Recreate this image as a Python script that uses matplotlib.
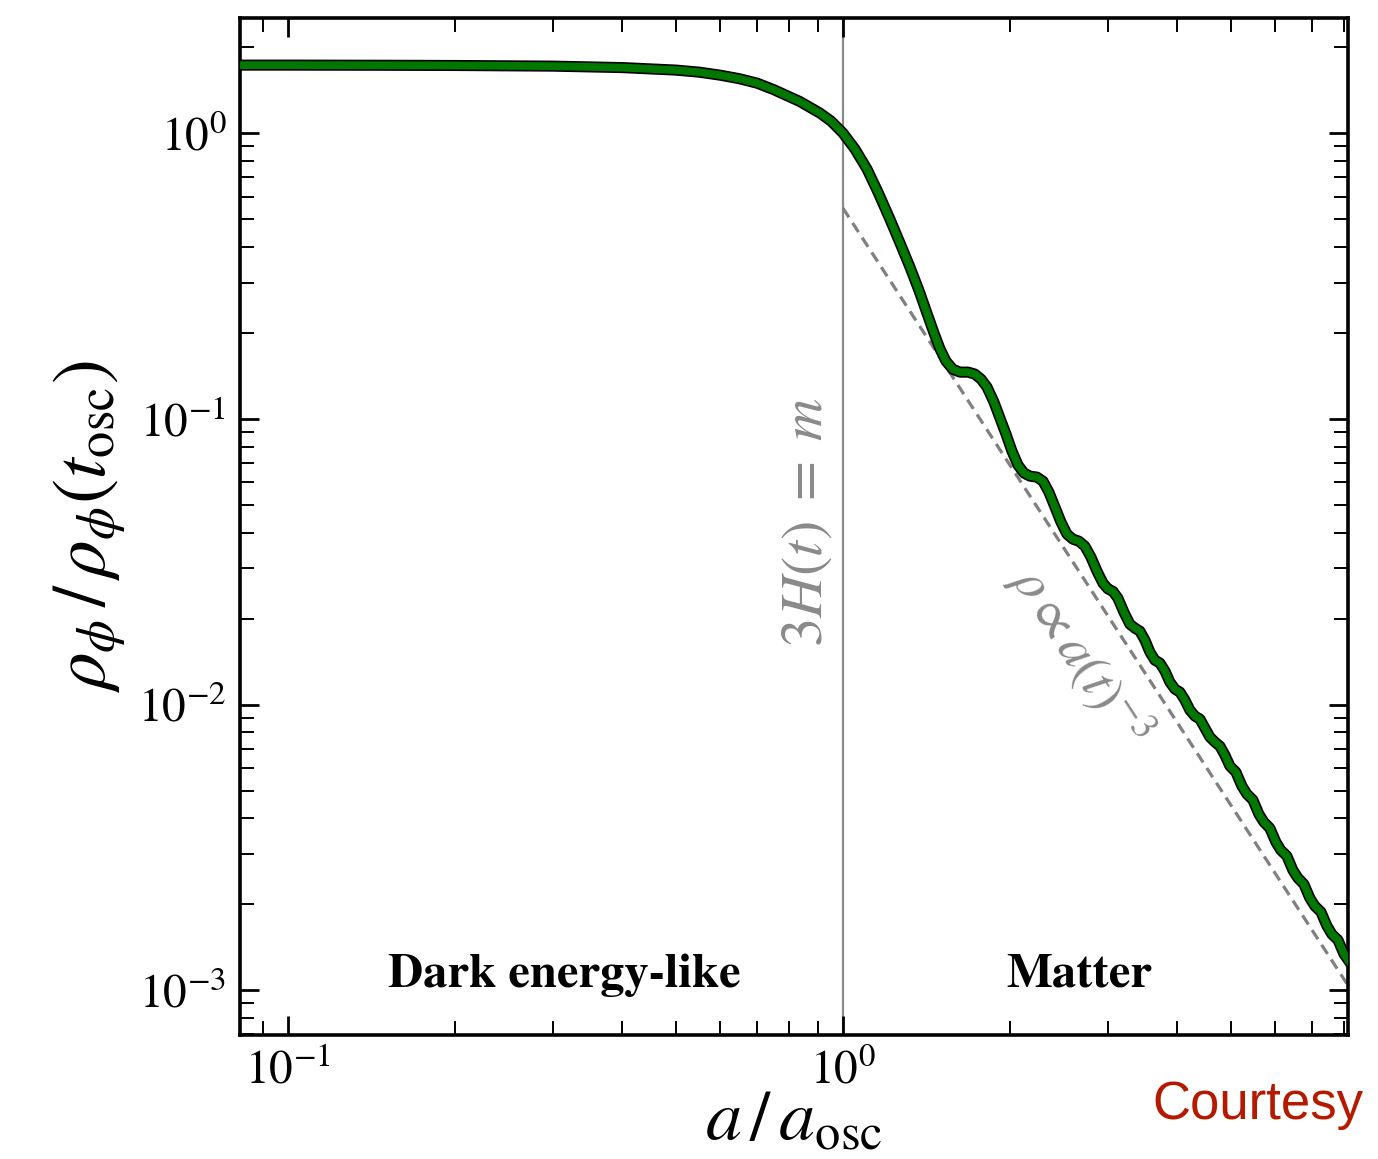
import numpy as np
import matplotlib
matplotlib.use("Agg")
import matplotlib.pyplot as plt
import matplotlib.patheffects as pe
from matplotlib.ticker import LogLocator, NullFormatter

plt.rcParams['mathtext.fontset'] = 'stix'
plt.rcParams['font.family'] = ['STIXGeneral', 'DejaVu Serif']

# energy density of the field
a_ratio = [0.08, 0.1, 0.15, 0.2, 0.3, 0.4, 0.5, 0.55, 0.6, 0.65,
           0.7, 0.75, 0.8368, 0.909, 0.9514, 1.0, 1.051, 1.105, 1.156, 1.215,
           1.267, 1.320, 1.370, 1.417, 1.459, 1.496, 1.533, 1.578, 1.625, 1.680,
           1.729, 1.773, 1.818, 1.871, 1.918, 1.967, 2.016, 2.067, 2.119, 2.173,
           2.236, 2.293, 2.350, 2.410, 2.471, 2.533, 2.597, 2.662, 2.729, 2.798,
           2.869, 2.941, 3.002, 3.065, 3.129, 3.208, 3.289, 3.358, 3.428, 3.501,
           3.574, 3.649, 3.726, 3.804, 3.883, 3.965, 4.048, 4.133, 4.219, 4.307,
           4.398, 4.490, 4.585, 4.681, 4.779, 4.879, 4.981, 5.107, 5.236, 5.346,
           5.481, 5.619, 5.734, 5.880, 6.028, 6.154, 6.310, 6.469, 6.605, 6.771,
           6.941, 7.088, 7.267, 7.450, 7.606, 7.798, 7.994, 8.196]
rho_ratio = [1.730, 1.730, 1.728, 1.725, 1.716, 1.696, 1.662, 1.635, 1.596, 1.551,
             1.496, 1.420, 1.289, 1.175, 1.102, 1.0, 0.879, 0.748, 0.622, 0.500,
             0.412, 0.340, 0.282, 0.234, 0.1995, 0.1754, 0.1592, 0.149, 0.1457, 0.1457,
             0.1434, 0.1377, 0.1291, 0.1144, 0.1006, 0.0884, 0.0771, 0.0689, 0.0646, 0.0630,
             0.0625, 0.0605, 0.0554, 0.0491, 0.0435, 0.0395, 0.0379, 0.0373, 0.0358, 0.0328,
             0.0293, 0.0266, 0.0254, 0.0249, 0.02357, 0.02105, 0.01911, 0.01851, 0.01807, 0.0168,
             0.01526, 0.01429, 0.01396, 0.01309, 0.01198, 0.01132, 0.01105, 0.01036, 0.00956, 0.00911,
             0.00889, 0.00827, 0.00769, 0.00739, 0.00715, 0.00665, 0.00609, 0.00580, 0.00518, 0.00486,
             0.00463, 0.00413, 0.00388, 0.00369, 0.00330, 0.00309, 0.00295, 0.00263, 0.00247, 0.00235,
             0.00210, 0.00197, 0.00188, 0.00168, 0.00157, 0.00150, 0.00134, 0.00125]

# a^-3 guide line
guide_a = [1.0, 8.13]
guide_rho = [0.546, 0.00104]

x_osc = 1.0

fig = plt.figure(figsize=(13.78, 11.59), dpi=100)
ax = fig.add_axes([0.1742, 0.107, 0.804, 0.8775])

ax.axvline(x_osc, color='#8a8a8a', lw=1.6, zorder=1)
ax.plot(guide_a, guide_rho, ls=(0, (3.4, 2.1)), color='#808080', lw=2.3, zorder=2)
ax.plot(a_ratio, rho_ratio, color='#007800', lw=5.6, solid_joinstyle='round',
        solid_capstyle='round', zorder=3,
        path_effects=[pe.Stroke(linewidth=8.0, foreground='black'), pe.Normal()])

ax.set_xscale('log')
ax.set_yscale('log')
ax.set_xlim(0.0819, 8.13)
ax.set_ylim(6.97e-4, 2.53)

ax.xaxis.set_minor_formatter(NullFormatter())
ax.yaxis.set_minor_formatter(NullFormatter())
ax.yaxis.set_major_locator(LogLocator(base=10, numticks=10))
ax.yaxis.set_minor_locator(LogLocator(base=10, subs=np.arange(2, 10), numticks=20))
ax.xaxis.set_minor_locator(LogLocator(base=10, subs=np.arange(2, 10), numticks=20))

ax.tick_params(which='both', direction='in', top=True, right=True)
ax.tick_params(which='major', length=14, width=2.0, labelsize=34, pad=10)
ax.tick_params(which='minor', length=10, width=1.4)
for s in ax.spines.values():
    s.set_linewidth(2.6)

ax.set_xlabel(r'$a\,/\,a_{\mathrm{osc}}$', fontsize=52)
ax.set_ylabel(r'$\rho_\phi\,/\,\rho_\phi(t_{\mathrm{osc}})$', fontsize=54)
ax.xaxis.set_label_coords(0.5, -0.055)
ax.yaxis.set_label_coords(-0.100, 0.5)

ax.text(0.3145, 1.13e-3, 'Dark energy-like', fontsize=35, fontweight='bold',
        ha='center', va='center')
ax.text(2.662, 1.13e-3, 'Matter', fontsize=35, fontweight='bold',
        ha='center', va='center')
ax.text(0.865, 0.0435, r'$3H(t)\;=\;m$', fontsize=42, color='#8a8a8a',
        rotation=90, ha='center', va='center')
ax.text(2.673, 0.0149, r'$\rho \propto a(t)^{-3}$', fontsize=39, color='#8a8a8a',
        rotation=-57, rotation_mode='anchor', ha='center', va='center')

fig.text(0.913, 0.0466, 'Courtesy', fontsize=38, color='#b51a00',
         family='Liberation Sans', ha='center', va='center')

fig.savefig('out.png', dpi=100)
